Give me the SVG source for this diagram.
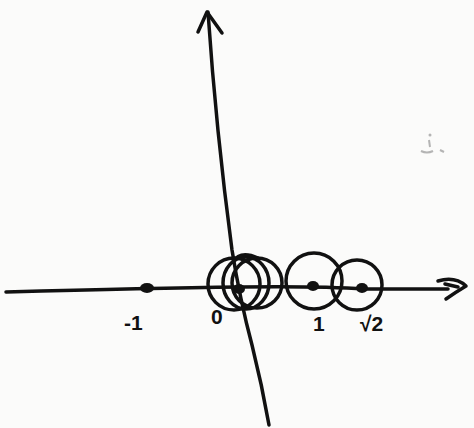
<svg xmlns="http://www.w3.org/2000/svg" width="474" height="428" viewBox="0 0 474 428">
<style>
.ln{fill:none;stroke:#111;stroke-width:3.5;stroke-linecap:round;stroke-linejoin:round}
.dot{fill:#111}
.lb{font-family:"Liberation Sans",Arial,sans-serif;font-size:21px;font-weight:bold;fill:#111}
</style>
<rect width="474" height="428" fill="#fbfbfa"/>
<g id="faint-mark" opacity="0.35">
<circle cx="430" cy="135" r="1.5" fill="#333"/>
<path d="M429 140 L430 147 M421 151 Q427 154 433 151 M440 150 L444 152" stroke="#333" stroke-width="2" fill="none"/>
</g>
<g id="connectors">
<g id="x-axis">
<path class="ln" d="M6 292 Q150 288 240 287 Q320 286 365 289 L448 289"/>
<path class="ln" d="M438 281 Q455 276 466 286 Q456 292 446 299"/>
<path class="ln" d="M445 284 L458 287"/>
</g>
<g id="y-axis">
<path class="ln" d="M208 12 Q216 130 232 250 Q240 300 252 345 Q262 385 269 425"/>
<path class="ln" d="M198 32 L207 12 L222 33"/>
</g>
</g>
<g id="circles-0">
<circle class="ln" cx="234" cy="284" r="26"/>
<ellipse class="ln" cx="246" cy="283" rx="23" ry="26"/>
<circle class="ln" cx="257" cy="283" r="25"/>
<path class="ln" d="M233 262 Q240 250 258 258"/>
</g>
<g id="circle-1">
<circle class="ln" cx="314" cy="281" r="28"/>
</g>
<g id="circle-sqrt2">
<circle class="ln" cx="357" cy="285" r="25"/>
</g>
<g id="point-neg1">
<ellipse class="dot" cx="147" cy="288" rx="7" ry="5"/>
<text class="lb" x="124" y="330">-1</text>
</g>
<g id="point-0">
<ellipse class="dot" cx="239" cy="289" rx="6" ry="5"/>
<text class="lb" x="211" y="324">0</text>
</g>
<g id="point-1">
<ellipse class="dot" cx="313" cy="286" rx="6" ry="5"/>
<text class="lb" x="313" y="331">1</text>
</g>
<g id="point-sqrt2">
<ellipse class="dot" cx="362" cy="288" rx="6" ry="5"/>
<text class="lb" x="360" y="331">√2</text>
</g>
</svg>
